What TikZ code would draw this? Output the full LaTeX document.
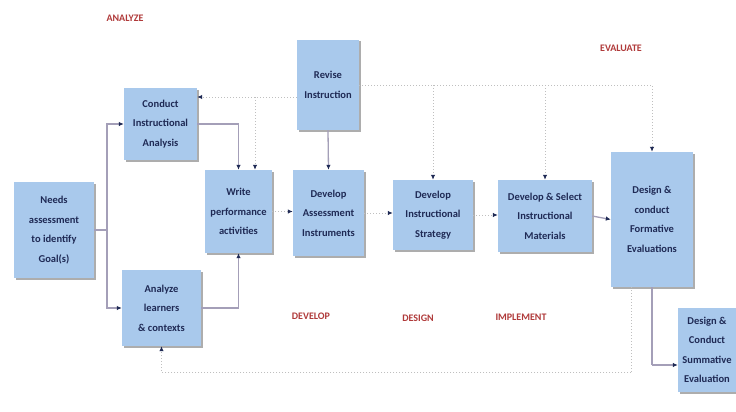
\documentclass[tikz,border=0pt]{standalone}
\usepackage{fontspec}
\setmainfont{Carlito}
\usetikzlibrary{arrows.meta,shadows}
\definecolor{boxblue}{HTML}{A9C9EC}
\definecolor{navy}{HTML}{1F2A55}
\definecolor{linegray}{HTML}{A49FB8}
\definecolor{phasered}{HTML}{B03A3A}
\tikzset{
  box/.style={fill=boxblue, draw=none, align=center, text=navy,
    font=\bfseries\fontsize{10.5}{19.5}\selectfont, inner sep=2pt,
    drop shadow={shadow xshift=1.5pt, shadow yshift=-1.5pt, fill=gray!80, opacity=0.8}},
  solidline/.style={draw=linegray, line width=1.3pt},
  dotline/.style={draw=gray!50, dotted, line width=1pt},
  tip/.style={-{Latex[length=5pt,width=4.5pt,color=navy]}},
  phase/.style={text=phasered, font=\bfseries\fontsize{10}{11}\selectfont}
}
\begin{document}
\begin{tikzpicture}[x=1pt,y=-1pt]
\useasboundingbox[fill=white] (0,0) rectangle (736,412);
% boxes
\node[box, minimum width=80pt, minimum height=96pt] (needs) at (54,230) {Needs\\assessment\\to identify\\Goal(s)};
\node[box, minimum width=73pt, minimum height=72pt] (cia) at (160.5,124) {Conduct\\Instructional\\Analysis};
\node[box, minimum width=79pt, minimum height=76pt] (alc) at (161.5,308) {Analyze\\learners\\\& contexts};
\node[box, minimum width=67pt, minimum height=83pt] (wpa) at (238.5,211.5) {Write\\performance\\activities};
\node[box, minimum width=62pt, minimum height=90pt] (rev) at (328,85) {Revise\\Instruction};
\node[box, minimum width=71pt, minimum height=86pt] (dai) at (328.5,213) {Develop\\Assessment\\Instruments};
\node[box, minimum width=80pt, minimum height=70pt] (dis) at (433,215) {Develop\\Instructional\\Strategy};
\node[box, minimum width=94pt, minimum height=72pt] (dsm) at (545,216) {Develop \& Select\\Instructional\\Materials};
\node[box, minimum width=82pt, minimum height=135pt] (fe) at (652,219.5) {Design \&\\conduct\\Formative\\Evaluations};
\node[box, minimum width=58pt, minimum height=84pt] (se) at (707,350) {Design \&\\Conduct\\Summative\\Evaluation};
% phase labels
\node[phase] (lanalyze) at (125,18) {ANALYZE};
\node[phase] (levaluate) at (621,48) {EVALUATE};
\node[phase] (ldevelop) at (311,316) {DEVELOP};
\node[phase] (ldesign) at (418,318) {DESIGN};
\node[phase] (limplement) at (521,317) {IMPLEMENT};
% helper coordinates
\coordinate (jn) at (107,230);
\coordinate (r1) at (0,97);
\coordinate (b1) at (255,97);
\coordinate (b4) at (652,365);
\coordinate (d1) at (631,287);
\coordinate (d2) at (631,372);
% solid connectors
\draw[solidline] (needs.east) -- (jn);
\draw[solidline, tip] (jn) |- (cia.west);
\draw[solidline, tip] (jn) |- (alc.west);
\draw[solidline, tip] (cia.east) -| (wpa.north);
\draw[solidline, tip] (alc.east) -| (wpa.south);
\draw[solidline, tip] (rev.south) -- (dai.north);
\draw[solidline, tip] (dsm.east) -- (fe.west);
\draw[solidline] (fe.south) -- (b4);
\draw[solidline, tip] (b4) -- (b4 -| se.west);
% dotted connectors
\draw[dotline, tip] (rev.west |- r1) -- (cia.east |- r1);
\draw[dotline, tip] (b1) -- (b1 |- wpa.north);
\draw[dotline, tip] (rev.east) -| (fe.north);
\draw[dotline, tip] (rev.east -| dis.north) -- (dis.north);
\draw[dotline, tip] (rev.east -| dsm.north) -- (dsm.north);
\draw[dotline, tip] (wpa.east) -- (wpa.east -| dai.west);
\draw[dotline, tip] (dai.east) -- (dai.east -| dis.west);
\draw[dotline, tip] (dis.east) -- (dis.east -| dsm.west);
\draw[dotline] (d1) -- (d2);
\draw[dotline, tip] (d2) -| (alc.south);
\end{tikzpicture}
\end{document}
